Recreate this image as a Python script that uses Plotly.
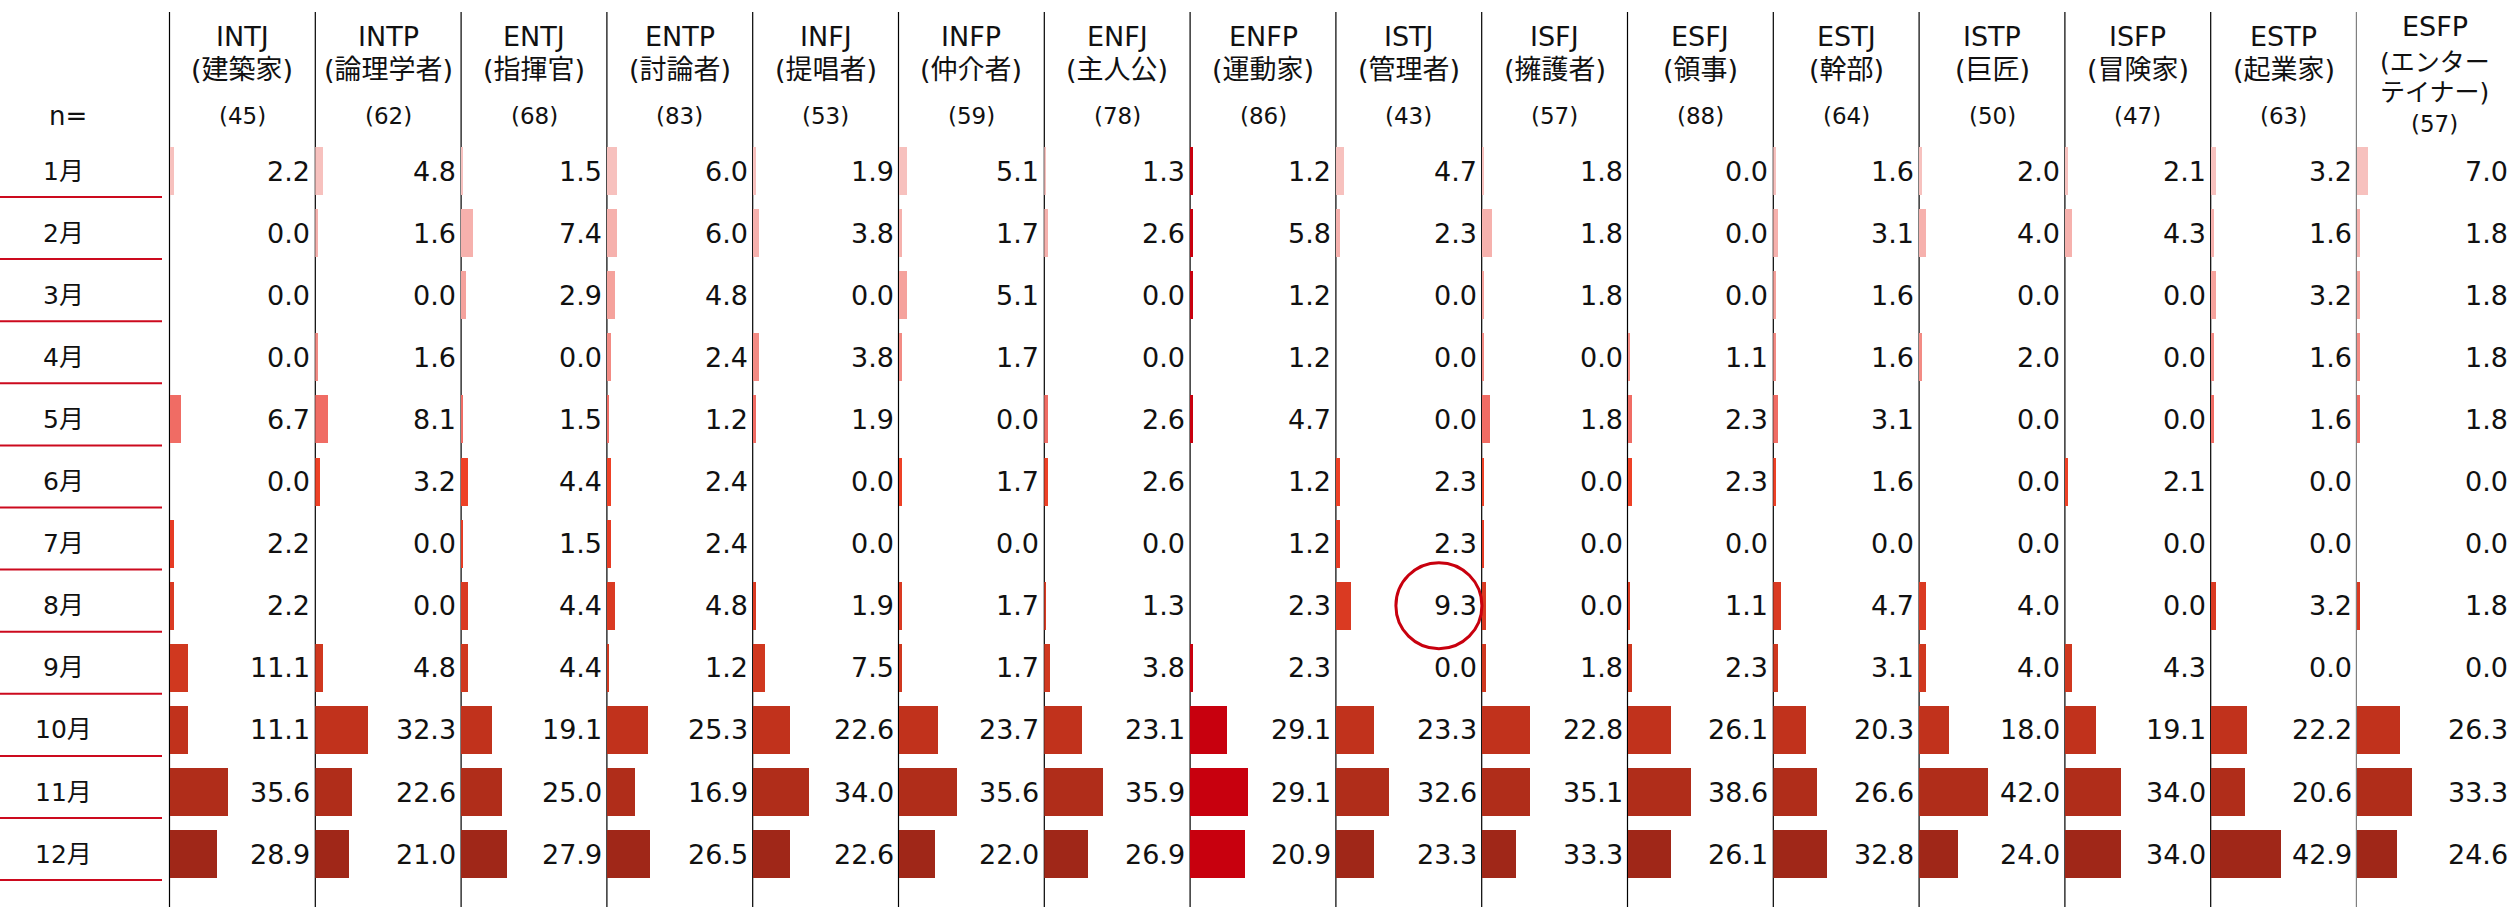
import plotly.graph_objects as go

# ---------------- data ----------------
months = ["1月", "2月", "3月", "4月", "5月", "6月", "7月", "8月", "9月", "10月", "11月", "12月"]
types = ["INTJ", "INTP", "ENTJ", "ENTP", "INFJ", "INFP", "ENFJ", "ENFP",
         "ISTJ", "ISFJ", "ESFJ", "ESTJ", "ISTP", "ISFP", "ESTP", "ESFP"]
type_names = ["(建築家)", "(論理学者)", "(指揮官)", "(討論者)", "(提唱者)", "(仲介者)", "(主人公)", "(運動家)",
              "(管理者)", "(擁護者)", "(領事)", "(幹部)", "(巨匠)", "(冒険家)", "(起業家)", "(エンター|テイナー)"]
n_counts = [45, 62, 68, 83, 53, 59, 78, 86, 43, 57, 88, 64, 50, 47, 63, 57]

INTJ = [2.2, 0.0, 0.0, 0.0, 6.7, 0.0, 2.2, 2.2, 11.1, 11.1, 35.6, 28.9]
INTP = [4.8, 1.6, 0.0, 1.6, 8.1, 3.2, 0.0, 0.0, 4.8, 32.3, 22.6, 21.0]
ENTJ = [1.5, 7.4, 2.9, 0.0, 1.5, 4.4, 1.5, 4.4, 4.4, 19.1, 25.0, 27.9]
ENTP = [6.0, 6.0, 4.8, 2.4, 1.2, 2.4, 2.4, 4.8, 1.2, 25.3, 16.9, 26.5]
INFJ = [1.9, 3.8, 0.0, 3.8, 1.9, 0.0, 0.0, 1.9, 7.5, 22.6, 34.0, 22.6]
INFP = [5.1, 1.7, 5.1, 1.7, 0.0, 1.7, 0.0, 1.7, 1.7, 23.7, 35.6, 22.0]
ENFJ = [1.3, 2.6, 0.0, 0.0, 2.6, 2.6, 0.0, 1.3, 3.8, 23.1, 35.9, 26.9]
ENFP = [1.2, 5.8, 1.2, 1.2, 4.7, 1.2, 1.2, 2.3, 2.3, 29.1, 29.1, 20.9]
ISTJ = [4.7, 2.3, 0.0, 0.0, 0.0, 2.3, 2.3, 9.3, 0.0, 23.3, 32.6, 23.3]
ISFJ = [1.8, 1.8, 1.8, 0.0, 1.8, 0.0, 0.0, 0.0, 1.8, 22.8, 35.1, 33.3]
ESFJ = [0.0, 0.0, 0.0, 1.1, 2.3, 2.3, 0.0, 1.1, 2.3, 26.1, 38.6, 26.1]
ESTJ = [1.6, 3.1, 1.6, 1.6, 3.1, 1.6, 0.0, 4.7, 3.1, 20.3, 26.6, 32.8]
ISTP = [2.0, 4.0, 0.0, 2.0, 0.0, 0.0, 0.0, 4.0, 4.0, 18.0, 42.0, 24.0]
ISFP = [2.1, 4.3, 0.0, 0.0, 0.0, 2.1, 0.0, 0.0, 4.3, 19.1, 34.0, 34.0]
ESTP = [3.2, 1.6, 3.2, 1.6, 1.6, 0.0, 0.0, 3.2, 0.0, 22.2, 20.6, 42.9]
ESFP = [7.0, 1.8, 1.8, 1.8, 1.8, 0.0, 0.0, 1.8, 0.0, 26.3, 33.3, 24.6]

values = {"INTJ": INTJ, "INTP": INTP, "ENTJ": ENTJ, "ENTP": ENTP, "INFJ": INFJ, "INFP": INFP,
          "ENFJ": ENFJ, "ENFP": ENFP, "ISTJ": ISTJ, "ISFJ": ISFJ, "ESFJ": ESFJ, "ESTJ": ESTJ,
          "ISTP": ISTP, "ISFP": ISFP, "ESTP": ESTP, "ESFP": ESFP}

# In the reference picture the data bars of the ENFP and ISFJ columns are swapped
bar_source = ["INTJ", "INTP", "ENTJ", "ENTP", "INFJ", "INFP", "ENFJ", "ISFJ",
              "ISTJ", "ENFP", "ESFJ", "ESTJ", "ISTP", "ISFP", "ESTP", "ESFP"]

highlight_col = "ENFP"
circle_type, circle_month = "ISTJ", "8月"

# ---------------- styles ----------------
row_colors = ["#F7C1BE", "#F6B1AD", "#F5A29C", "#F38B84", "#F06C64", "#EE4126",
              "#E63B24", "#DA3A22", "#D0381F", "#C1321C", "#B02D1A", "#A02718"]
highlight_color = "#C8000E"
red_line = "#CC0A1E"
txt = "#111111"
FONT = "DejaVu Sans, Noto Sans CJK JP, sans-serif"

W, H = 2514, 907
col_left0, col_pitch, last_right = 169.5, 145.8, 2513.0
px_per_unit = 1.64
row0, row_pitch = 171.0, 62.1
bar_h = 48.0

fig = go.Figure()
axes = {}
annotations = []
shapes = []

yr = [(H - row0) / row_pitch, -row0 / row_pitch]

for k, t in enumerate(types):
    left = col_left0 + col_pitch * k
    right = left + col_pitch if k < len(types) - 1 else last_right
    sfx = "" if k == 0 else str(k + 1)
    axes["xaxis" + sfx] = dict(domain=[left / W, right / W], range=[0, (right - left) / px_per_unit],
                               visible=False, fixedrange=True, anchor="y")
    colors = [highlight_color] * len(months) if t == highlight_col else row_colors
    fig.add_trace(go.Bar(
        x=values[bar_source[k]], y=months, orientation="h",
        xaxis="x" + sfx, yaxis="y", width=bar_h / row_pitch,
        marker=dict(color=colors, line=dict(width=0)),
        hoverinfo="skip", showlegend=False))

    dref = "x" + sfx + " domain"
    # value labels
    for i, v in enumerate(values[t]):
        annotations.append(dict(xref=dref, x=1, xanchor="right", xshift=-3,
                                yref="y", y=i, yanchor="middle", text=f"{v:.1f}",
                                showarrow=False, font=dict(family=FONT, size=27, color=txt)))
    # header
    if t != "ESFP":
        heads = [(t, 37, 27), (type_names[k], 69, 27), (f"({n_counts[k]})", 116, 23)]
    else:
        a, b = type_names[k].split("|")
        heads = [(t, 27, 27), (a, 62, 25), (b, 93, 25), (f"({n_counts[k]})", 124, 23)]
    for text, ypx, fs in heads:
        annotations.append(dict(xref=dref, x=0.5, xanchor="center", yref="paper",
                                y=1 - ypx / H, yanchor="middle", text=text, showarrow=False,
                                font=dict(family=FONT, size=fs, color=txt)))
    # column separator
    shapes.append(dict(type="line", xref=dref, x0=0, x1=0, yref="paper",
                       y0=0, y1=1 - 12 / H, line=dict(color="black", width=1.2), layer="below"))

# row labels and red separators
for i, m in enumerate(months):
    annotations.append(dict(xref="paper", x=63 / W, xanchor="center", yref="y", y=i,
                            yanchor="middle", text=m, showarrow=False,
                            font=dict(family=FONT, size=25, color=txt)))
    yl = i + 26 / row_pitch
    shapes.append(dict(type="line", xref="paper", x0=0, x1=162 / W, yref="y", y0=yl, y1=yl,
                       line=dict(color=red_line, width=2)))

annotations.append(dict(xref="paper", x=68 / W, xanchor="center", yref="paper", y=1 - 116 / H,
                        yanchor="middle", text="n=", showarrow=False,
                        font=dict(family=FONT, size=26, color=txt)))

# red circle highlight
ci = types.index(circle_type)
mi = months.index(circle_month)
csfx = "" if ci == 0 else str(ci + 1)
r_px = 43
shapes.append(dict(type="circle", xref="x" + csfx + " domain",
                   x0=60 / col_pitch, x1=(60 + 2 * r_px) / col_pitch,
                   yref="y", y0=mi - r_px / row_pitch, y1=mi + r_px / row_pitch,
                   line=dict(color=highlight_color, width=3)))

fig.update_layout(
    width=W, height=H, autosize=False,
    margin=dict(l=0, r=0, t=0, b=0, pad=0),
    paper_bgcolor="white", plot_bgcolor="white",
    yaxis=dict(type="category", categoryorder="array", categoryarray=months, range=yr,
               visible=False, fixedrange=True, anchor="x", domain=[0, 1]),
    annotations=annotations, shapes=shapes, bargap=0,
    **axes)

fig.write_html("out.html", include_plotlyjs=True, config={"displayModeBar": False},
               post_script="document.body.style.margin='0';document.body.style.overflow='hidden';")
